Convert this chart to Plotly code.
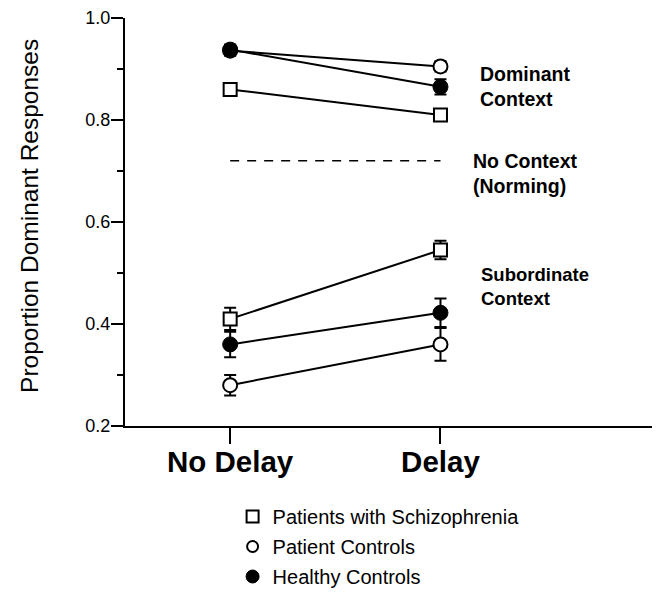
import plotly.graph_objects as go

conditions = ["No Delay", "Delay"]
xpos = [1, 2]

groups = ["Patients with Schizophrenia", "Patient Controls", "Healthy Controls"]

# Dominant context
dom_schiz = [0.86, 0.81]
dom_schiz_err = [0.012, 0.01]
dom_pc = [0.936, 0.905]
dom_pc_err = [0.01, 0.01]
dom_hc = [0.938, 0.865]
dom_hc_err = [0.01, 0.015]

# Subordinate context
sub_schiz = [0.41, 0.545]
sub_schiz_err = [0.022, 0.018]
sub_pc = [0.28, 0.36]
sub_pc_err = [0.02, 0.032]
sub_hc = [0.36, 0.422]
sub_hc_err = [0.025, 0.028]

norming = [0.72, 0.72]

yticks = [0.2, 0.4, 0.6, 0.8, 1.0]
yticklabels = ["0.2", "0.4", "0.6", "0.8", "1.0"]

FONT = "Liberation Sans, Arial, sans-serif"

styles = {
    "schiz": dict(symbol="square", size=13, color="white", line=dict(color="black", width=2)),
    "pc": dict(symbol="circle", size=14, color="white", line=dict(color="black", width=2)),
    "hc": dict(symbol="circle", size=15, color="black", line=dict(color="black", width=1)),
}

fig = go.Figure()

series = [
    ("schiz", dom_schiz, dom_schiz_err),
    ("pc", dom_pc, dom_pc_err),
    ("hc", dom_hc, dom_hc_err),
    ("schiz", sub_schiz, sub_schiz_err),
    ("pc", sub_pc, sub_pc_err),
    ("hc", sub_hc, sub_hc_err),
]
for key, vals, errs in series:
    fig.add_trace(go.Scatter(
        x=xpos, y=vals, mode="lines+markers",
        line=dict(color="black", width=2),
        marker=styles[key],
        error_y=dict(type="data", array=errs, visible=True, color="black", thickness=2, width=6),
        showlegend=False, hoverinfo="skip",
    ))

fig.add_trace(go.Scatter(
    x=xpos, y=norming, mode="lines",
    line=dict(color="black", width=1.5, dash="9px,8px"),
    showlegend=False, hoverinfo="skip",
))

legend_styles = {
    "schiz": dict(symbol="square", size=12, color="white", line=dict(color="black", width=2)),
    "pc": dict(symbol="circle", size=11, color="white", line=dict(color="black", width=2)),
    "hc": dict(symbol="circle", size=13, color="black", line=dict(color="black", width=1)),
}
for i, (key, name) in enumerate(zip(["schiz", "pc", "hc"], groups)):
    fig.add_trace(go.Scatter(
        x=[None], y=[None], mode="markers", name=name, legendgroup=f"g{i}",
        marker=legend_styles[key], showlegend=True,
    ))

ann_font = dict(family=FONT, size=19.5, color="black")
fig.add_annotation(x=2.179, y=0.865, xref="x", yref="y", text="<b>Dominant<br>Context</b>",
                   showarrow=False, xanchor="left", yanchor="middle", align="left", font=ann_font)
fig.add_annotation(x=2.145, y=0.696, xref="x", yref="y", text="<b>No Context<br>(Norming)</b>",
                   showarrow=False, xanchor="left", yanchor="middle", align="left", font=ann_font)
fig.add_annotation(x=2.185, y=0.473, xref="x", yref="y", text="<b>Subordinate<br>Context</b>",
                   showarrow=False, xanchor="left", yanchor="middle", align="left",
                   font=dict(family=FONT, size=18.5, color="black"))

# y-axis title
fig.add_annotation(x=(22 - 117) / 530, y=0.515, xref="paper", yref="paper",
                   text="Proportion Dominant Responses", textangle=-90, showarrow=False,
                   xanchor="center", yanchor="middle",
                   font=dict(family=FONT, size=24.5, color="black"))

fig.update_layout(
    width=652, height=590,
    margin=dict(l=117, r=5, t=10, b=172, autoexpand=False),
    paper_bgcolor="white", plot_bgcolor="white",
    font=dict(family=FONT, color="black"),
    legend=dict(x=0.203, y=-0.174, xanchor="left", yanchor="top",
                font=dict(family=FONT, size=20, color="black"),
                bgcolor="rgba(0,0,0,0)", tracegroupgap=1, itemwidth=30),
)

fig.update_xaxes(
    range=[0.5, 3.02], tickvals=xpos, ticktext=[f"<b>{c}</b>" for c in conditions],
    showline=True, linecolor="black", linewidth=2, showgrid=False, zeroline=False,
    ticks="outside", ticklen=16, tickwidth=2, tickcolor="black",
    tickfont=dict(family=FONT, size=29.5, color="black"), automargin=False,
    ticklabelstandoff=-7,
)
fig.update_yaxes(
    range=[0.2, 1.0], tickvals=yticks, ticktext=yticklabels,
    showline=True, linecolor="black", linewidth=2, showgrid=False, zeroline=False,
    ticks="outside", ticklen=12, tickwidth=1.5, tickcolor="black",
    tickfont=dict(family=FONT, size=18, color="black"), automargin=False,
    ticklabelstandoff=-3,
    minor=dict(tickvals=[0.3, 0.5, 0.7, 0.9], ticks="outside", ticklen=6, tickwidth=1.5, tickcolor="black"),
)

fig.write_html("out.html")
